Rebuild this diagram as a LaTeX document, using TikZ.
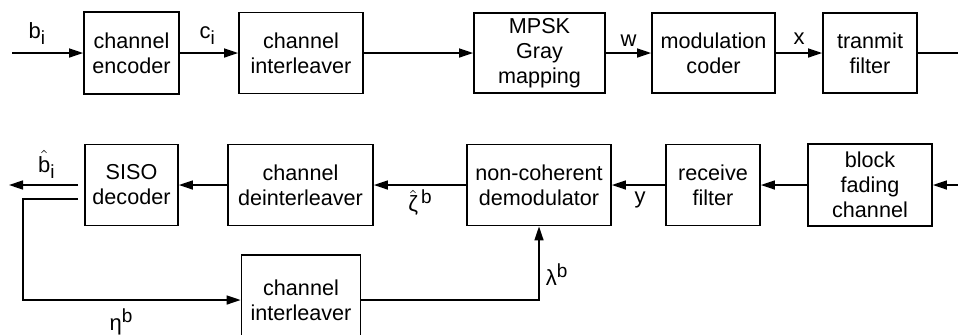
\documentclass[tikz,border=0pt]{standalone}
\usepackage{amsmath}
\usepackage{fontspec}
\setmainfont{Liberation Sans}
\usetikzlibrary{arrows.meta}

\newcommand{\lowtxt}[1]{\raisebox{-0.5ex}{\fontsize{9.5}{10}\selectfont #1}}
\newcommand{\hightxt}[1]{\raisebox{0.7ex}{\fontsize{9.5}{10}\selectfont #1}}

\tikzset{
  blk/.style={draw, line width=0.9pt, align=center, inner sep=1pt, font=\fontsize{10.8}{12.5}\selectfont},
  sig/.style={line width=0.8pt, -{Triangle[length=7pt,width=4.5pt]}},
  wire/.style={line width=0.8pt},
  lbl/.style={font=\fontsize{11}{12.5}\selectfont, inner sep=3pt}
}

\begin{document}
\begin{tikzpicture}[x=0.5pt, y=-0.5pt]
    \useasboundingbox (0,0) rectangle (958,334);
    \clip (0,0) rectangle (958,334);

    % transmitter chain
    \node(enc)  [blk, minimum width=47.5pt, minimum height=41pt] at (131.5,53) {channel\\encoder};
    \node(ilv)  [blk, minimum width=62pt, minimum height=40.5pt] at (301,53) {channel\\interleaver};
    \node(map)  [blk, minimum width=65.5pt, minimum height=40pt] at (539.5,53) {MPSK\\Gray\\mapping};
    \node(mod)  [blk, minimum width=61.5pt, minimum height=40pt] at (713.5,53) {modulation\\coder};
    \node(tx)   [blk, minimum width=47pt, minimum height=40pt] at (870,53) {tranmit\\filter};

    % receiver chain
    \node(chan) [blk, minimum width=62pt, minimum height=41pt] at (870,185) {block\\fading\\channel};
    \node(rx)   [blk, minimum width=47pt, minimum height=40.5pt] at (713,185) {receive\\filter};
    \node(dem)  [blk, minimum width=72pt, minimum height=40.5pt] at (539,185) {non-coherent\\demodulator};
    \node(dil)  [blk, minimum width=72.5pt, minimum height=40.5pt] at (300.5,185) {channel\\deinterleaver};
    \node(siso) [blk, minimum width=46.5pt, minimum height=40.5pt] at (131.5,185) {SISO\\decoder};
    \node(ilv2) [blk, minimum width=59.5pt, minimum height=45pt] at (301,300) {channel\\interleaver};

    \coordinate (bin) at (12,53);
    \coordinate (txout) at (958,53);
    \coordinate (chin) at (958,185);
    \coordinate (bout) at (9,185);
    \coordinate (fb) at (23,300);

    \draw[sig] (bin) -- node[lbl, above, pos=0.35, inner sep=4pt] {b\lowtxt{i}} (enc);
    \draw[sig] (enc) -- node[lbl, above, pos=0.47, inner sep=4pt] {c\lowtxt{i}} (ilv);
    \draw[sig] (ilv) -- (map);
    \draw[sig] (map) -- node[lbl, above] {w} (mod);
    \draw[sig] (mod) -- node[lbl, above, inner sep=4pt] {x} (tx);
    \draw[wire] (tx) -- (txout);

    \draw[sig] (chin) -- (chan);
    \draw[sig] (chan) -- (rx);
    \draw[sig] (rx) -- node[lbl, below, pos=0.47] {y} (dem);
    \draw[sig] (dem) -- node[lbl, below, inner sep=2pt] {$\hat{\text{ζ}}$\hightxt{\,b}} (dil);
    \draw[sig] (dil) -- (siso);
    \draw[sig] ([xshift=-3pt]siso.west) -- node[lbl, above, pos=0.46] {$\hat{\text{b}}$\lowtxt{i}} (bout);

    % feedback loop
    \draw[sig] ([xshift=-3pt, yshift=-7pt]siso.west) -| (fb) -- node[lbl, below, pos=0.45, inner sep=4pt] {η\hightxt{b}} (ilv2);
    \draw[sig] (ilv2) -| node[lbl, right, pos=0.67] {λ\hightxt{b}} (dem);
\end{tikzpicture}
\end{document}
